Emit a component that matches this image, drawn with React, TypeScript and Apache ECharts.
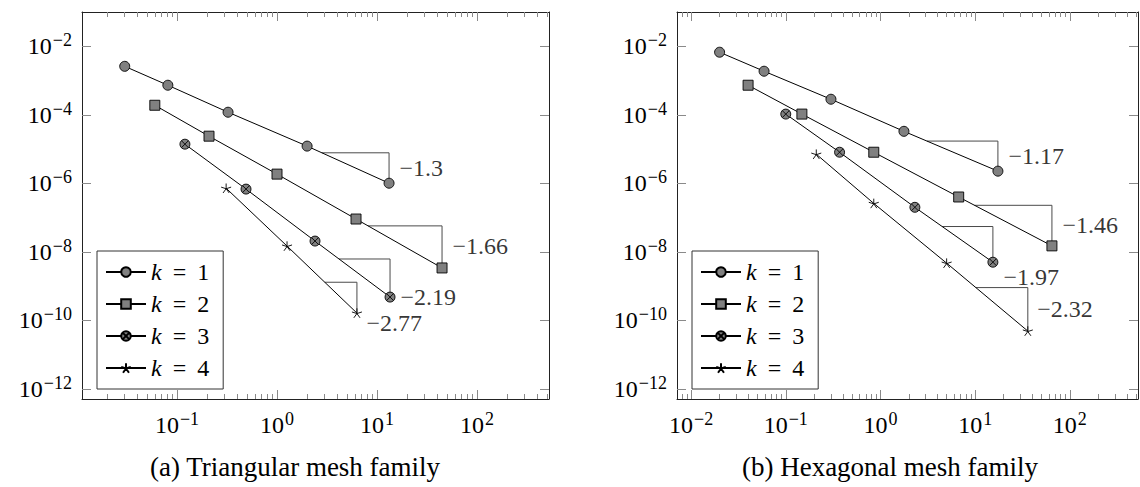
import { useEffect, useRef } from 'react';
import * as echarts from 'echarts';

const FONT = 'Liberation Serif';
const FS = 24;

const legendNames = ['k = 1', 'k = 2', 'k = 3', 'k = 4'];

// (a) triangular meshes: mesh parameter h and error, one pair of arrays per degree k
const triX_k1 = [0.03, 0.081, 0.324, 2.0, 13.2];
const triY_k1 = [2.6e-3, 7.3e-4, 1.19e-4, 1.22e-5, 1.01e-6];
const triX_k2 = [0.06, 0.209, 1.0, 6.17, 44.7];
const triY_k2 = [1.9e-4, 2.38e-5, 1.86e-6, 9.1e-8, 3.4e-9];
const triX_k3 = [0.12, 0.49, 2.4, 13.5];
const triY_k3 = [1.39e-5, 6.8e-7, 2.07e-8, 4.8e-10];
const triX_k4 = [0.31, 1.26, 6.3];
const triY_k4 = [7.2e-7, 1.48e-8, 1.64e-10];
const triSlopes = ['−1.3', '−1.66', '−2.19', '−2.77'];
const triTriangleFrac = [0.82, 0.86, 0.68, 0.46];

// (b) hexagonal meshes
const hexX_k1 = [0.02, 0.059, 0.3, 1.77, 17.4];
const hexY_k1 = [6.7e-3, 1.87e-3, 2.85e-4, 3.3e-5, 2.27e-6];
const hexX_k2 = [0.04, 0.148, 0.85, 6.7, 64.7];
const hexY_k2 = [7.3e-4, 1.05e-4, 8.1e-6, 4.0e-7, 1.5e-8];
const hexX_k3 = [0.1, 0.37, 2.31, 15.4];
const hexY_k3 = [1.05e-4, 8.1e-6, 2.0e-7, 5.0e-9];
const hexX_k4 = [0.21, 0.85, 5.0, 36];
const hexY_k4 = [7.1e-6, 2.6e-7, 4.7e-9, 4.9e-11];
const hexSlopes = ['−1.17', '−1.46', '−1.97', '−2.32'];
const hexTriangleFrac = [0.755, 0.83, 0.65, 0.64];

// axis limits (raw values) and decade exponents that carry a labelled tick
const xLimA = [0.01122, 524.8];
const xLimB = [0.0071, 524.8];
const yLim = [5.1e-13, 0.1];
const xTickExpA = [-1, 0, 1, 2];
const xTickExpB = [-2, -1, 0, 1, 2];
const yTickExp = [-12, -10, -8, -6, -4, -2];

const captions = ['(a) Triangular mesh family', '(b) Hexagonal mesh family'];

// layout
const GRIDS = [
  { left: 82, top: 12, width: 467, height: 387 },
  { left: 677, top: 12, width: 461, height: 387 },
];
const LEGEND_POS = [
  { left: 97, top: 251 },
  { left: 692, top: 251 },
];
const CAPTION_POS = [
  { x: 295, y: 467 },
  { x: 890, y: 467 },
];
// pixel nudge of each slope label from the middle of the triangle's vertical leg
const TRI_LABEL_NUDGE = [[11, 0], [11, 0], [11, 19], [10, 26]];
const HEX_LABEL_NUDGE = [[11, 0], [11, 0], [11, 33], [10, 0]];

const OTIMES =
  'path://M10 0A10 10 0 1 1 -10 0A10 10 0 1 1 10 0ZM-7.07 -7.07L7.07 7.07M7.07 -7.07L-7.07 7.07';
const STAR =
  'path://M0 0L0 -10M0 0L9.51 -3.09M0 0L5.88 8.09M0 0L-5.88 8.09M0 0L-9.51 -3.09';
const MARKS = [
  { symbol: 'circle', size: 10, fill: '#808080' },
  { symbol: 'rect', size: 10, fill: '#808080' },
  { symbol: OTIMES, size: 10, fill: '#808080' },
  { symbol: STAR, size: 10, fill: '#000' },
];

const lg = (v: number) => Math.log10(v);
const expText = (n: number) => {
  const r = Math.round(n);
  return r < 0 ? '−' + -r : String(r);
};
const powRich = {
  b: { fontFamily: FONT, fontSize: FS, lineHeight: 30, color: '#000' },
  s: { fontFamily: FONT, fontSize: 18, verticalAlign: 'top', padding: [0, 0, 0, 1], color: '#000' },
};
const powLabel = (v: number) => `{b|10}{s|${expText(v)}}`;

const FRAME = { show: true, onZero: false, lineStyle: { color: '#222', width: 1 } };
const NO_LINE = { show: false, onZero: false };
const TICK_COLOR = '#8a8a8a';

function xAxesFor(g: number, lim: number[], majors: number[]) {
  const min = lg(lim[0]);
  const max = lg(lim[1]);
  const minors: number[] = [];
  for (let e = Math.floor(min); e <= Math.ceil(max); e++) {
    for (let m = 2; m <= 9; m++) {
      const v = e + lg(m);
      if (v > min && v < max) minors.push(v);
    }
  }
  const base = { type: 'value', gridIndex: g, min, max, splitLine: { show: false } };
  const major = {
    show: true,
    inside: true,
    length: 9,
    customValues: majors,
    lineStyle: { color: TICK_COLOR, width: 1 },
  };
  const minor = {
    show: true,
    inside: true,
    length: 5,
    customValues: minors,
    lineStyle: { color: TICK_COLOR, width: 1 },
  };
  return [
    {
      ...base,
      position: 'bottom',
      axisLine: FRAME,
      axisTick: major,
      axisLabel: {
        show: true,
        customValues: majors,
        margin: 11,
        fontFamily: FONT,
        fontSize: FS,
        formatter: powLabel,
        rich: powRich,
      },
    },
    { ...base, position: 'top', axisLine: FRAME, axisTick: major, axisLabel: { show: false } },
    { ...base, position: 'bottom', axisLine: NO_LINE, axisTick: minor, axisLabel: { show: false } },
    { ...base, position: 'top', axisLine: NO_LINE, axisTick: minor, axisLabel: { show: false } },
  ];
}

function yAxesFor(g: number) {
  const base = {
    type: 'value',
    gridIndex: g,
    min: lg(yLim[0]),
    max: lg(yLim[1]),
    splitLine: { show: false },
    axisLine: FRAME,
    axisTick: {
      show: true,
      inside: true,
      length: 9,
      customValues: yTickExp,
      lineStyle: { color: TICK_COLOR, width: 1 },
    },
  };
  return [
    {
      ...base,
      position: 'left',
      axisLabel: {
        show: true,
        customValues: yTickExp,
        margin: 10,
        fontFamily: FONT,
        fontSize: FS,
        formatter: powLabel,
        rich: powRich,
      },
    },
    { ...base, position: 'right', axisLabel: { show: false } },
  ];
}

function panelSeries(
  g: number,
  xs: number[][],
  ys: number[][],
  slopes: string[],
  fracs: number[],
  nudges: number[][]
) {
  const xi = g * 4;
  const yi = g * 2;
  const out: any[] = [];
  xs.forEach((xv, k) => {
    const yv = ys[k];
    const pts = xv.map((x, i) => [lg(x), lg(yv[i])]);
    const m = MARKS[k];
    out.push({
      type: 'line',
      name: legendNames[k],
      xAxisIndex: xi,
      yAxisIndex: yi,
      data: pts,
      symbol: m.symbol,
      symbolSize: m.size,
      symbolKeepAspect: true,
      showSymbol: true,
      z: 4,
      lineStyle: { color: '#000', width: 1 },
      itemStyle: { color: m.fill, borderColor: '#000', borderWidth: 0.9 },
      emphasis: { disabled: true },
    });
    // slope triangle hung under the last segment
    const [x1, y1] = pts[pts.length - 2];
    const [x2, y2] = pts[pts.length - 1];
    const f = fracs[k];
    const xs0 = x2 - f * (x2 - x1);
    const ys0 = y2 - f * (y2 - y1);
    out.push({
      type: 'line',
      xAxisIndex: xi,
      yAxisIndex: yi,
      data: [
        [xs0, ys0],
        [x2, ys0],
        [x2, y2],
      ],
      symbol: 'none',
      silent: true,
      z: 3,
      lineStyle: { color: '#4a4a4a', width: 1 },
    });
    out.push({
      type: 'scatter',
      xAxisIndex: xi,
      yAxisIndex: yi,
      silent: true,
      symbolSize: 1,
      itemStyle: { color: 'rgba(0,0,0,0)' },
      z: 5,
      data: [
        {
          value: [x2, (ys0 + y2) / 2],
          label: {
            show: true,
            position: nudges[k],
            formatter: slopes[k],
            align: 'left',
            verticalAlign: 'middle',
            fontFamily: FONT,
            fontSize: FS,
            color: '#000',
          },
        },
      ],
    });
  });
  return out;
}

function legendFor(g: number) {
  return {
    orient: 'vertical',
    left: LEGEND_POS[g].left,
    top: LEGEND_POS[g].top,
    data: legendNames,
    selectedMode: false,
    padding: [9, 14, 9, 8],
    itemGap: 8,
    itemWidth: 40,
    itemHeight: 12,
    borderColor: '#333',
    borderWidth: 1,
    backgroundColor: '#fff',
    formatter: (name: string) => name.replace('k', '{i|k}').replace('=', '{r|=}'),
    textStyle: {
      fontFamily: FONT,
      fontSize: FS,
      lineHeight: 22,
      color: '#000',
      rich: {
        i: { fontFamily: FONT, fontSize: FS, lineHeight: 22, fontStyle: 'italic', color: '#000' },
        r: { fontFamily: FONT, fontSize: FS, lineHeight: 22, padding: [0, 5], color: '#000' },
      },
    },
  };
}

export default function App() {
  const ref = useRef<HTMLDivElement>(null);

  useEffect(() => {
    if (!ref.current) return;
    const chart = echarts.init(ref.current, null, { renderer: 'svg' });
    const option: any = {
      animation: false,
      backgroundColor: '#fff',
      textStyle: { fontFamily: FONT },
      grid: GRIDS.map((g) => ({ ...g, containLabel: false })),
      xAxis: [...xAxesFor(0, xLimA, xTickExpA), ...xAxesFor(1, xLimB, xTickExpB)],
      yAxis: [...yAxesFor(0), ...yAxesFor(1)],
      legend: [legendFor(0), legendFor(1)],
      series: [
        ...panelSeries(
          0,
          [triX_k1, triX_k2, triX_k3, triX_k4],
          [triY_k1, triY_k2, triY_k3, triY_k4],
          triSlopes,
          triTriangleFrac,
          TRI_LABEL_NUDGE
        ),
        ...panelSeries(
          1,
          [hexX_k1, hexX_k2, hexX_k3, hexX_k4],
          [hexY_k1, hexY_k2, hexY_k3, hexY_k4],
          hexSlopes,
          hexTriangleFrac,
          HEX_LABEL_NUDGE
        ),
      ],
      graphic: captions.map((text, i) => ({
        type: 'text',
        x: CAPTION_POS[i].x,
        y: CAPTION_POS[i].y,
        style: {
          text,
          align: 'center',
          verticalAlign: 'middle',
          fontFamily: FONT,
          fontSize: 27,
          fill: '#000',
        },
      })),
    };
    chart.setOption(option);
    return () => chart.dispose();
  }, []);

  return (
    <div
      ref={ref}
      style={{ position: 'absolute', left: 0, top: 0, width: 1140, height: 487 }}
    />
  );
}
